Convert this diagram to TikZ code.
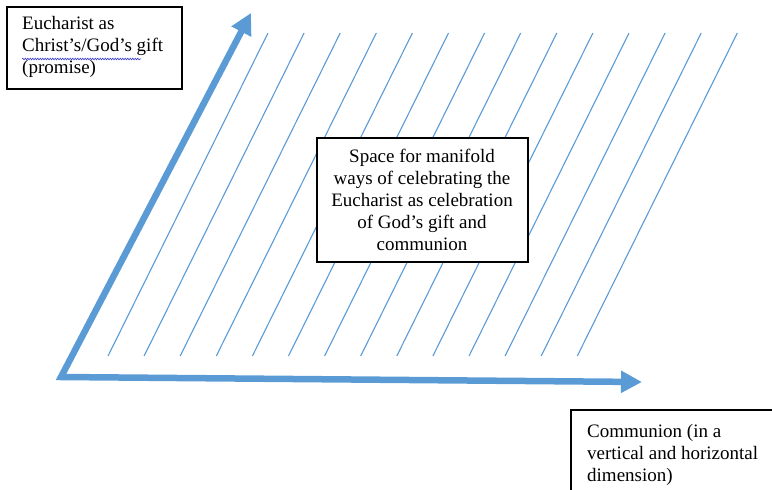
\documentclass[tikz,border=0pt]{standalone}
\usepackage{fontspec}
\setmainfont{Liberation Serif}
\usetikzlibrary{arrows.meta,decorations.pathmorphing}
\definecolor{arrowblue}{HTML}{5B9BD5}
\definecolor{spellblue}{HTML}{3A3ACF}
\tikzset{
  hatch/.style={draw=arrowblue, line width=1.1pt},
  axis/.style={draw=arrowblue, line width=6.5pt, line join=miter,
    {Triangle[width=21pt,length=21pt]}-{Triangle[width=21pt,length=21pt]}},
  framebox/.style={draw=black, line width=2pt, fill=white},
  txt/.style={font=\fontsize{19}{22}\selectfont, inner sep=0pt},
}
\begin{document}
\begin{tikzpicture}[x=1pt,y=-1pt]
\useasboundingbox (0,0) rectangle (772,490);
\clip (0,0) rectangle (772,490);
% hatch lines
\foreach \i in {0,...,13}{
  \coordinate (hb\i) at ({108+36.1*\i},356);
  \coordinate (ht\i) at ({268+36.1*\i},33);
  \draw[hatch] (hb\i) -- (ht\i);
}
% axes
\coordinate (vtip) at (251,13);
\coordinate (corner) at (61,377);
\coordinate (htip) at (642,382);
\draw[axis] (vtip) -- (corner) -- (htip);
% top-left box
\node[framebox, anchor=north west, minimum width=175pt, minimum height=82pt] (giftbox) at (6,6) {};
\node[txt, anchor=west, align=left] (gift) at (22,47)
  {Eucharist as\\Christ’s/God’s gift\\(promise)};
\draw[spellblue, line width=0.6pt, decorate,
  decoration={snake, amplitude=0.8pt, segment length=2.5pt}]
  (22,59) coordinate (sp1) -- (141,59) coordinate (sp2);
% centre box
\node[framebox, txt, align=center, minimum width=211pt, minimum height=124pt,
  inner sep=2pt] (space) at (422,200)
  {Space for manifold\\ways of celebrating the\\Eucharist as celebration\\of God’s gift and\\communion};
% bottom-right box
\node[framebox, anchor=north west, minimum width=230pt, minimum height=100pt] (commbox) at (570,409) {};
\node[txt, anchor=west, align=left] (comm) at (587,455)
  {Communion (in a\\vertical and horizontal\\dimension)};
\end{tikzpicture}
\end{document}
